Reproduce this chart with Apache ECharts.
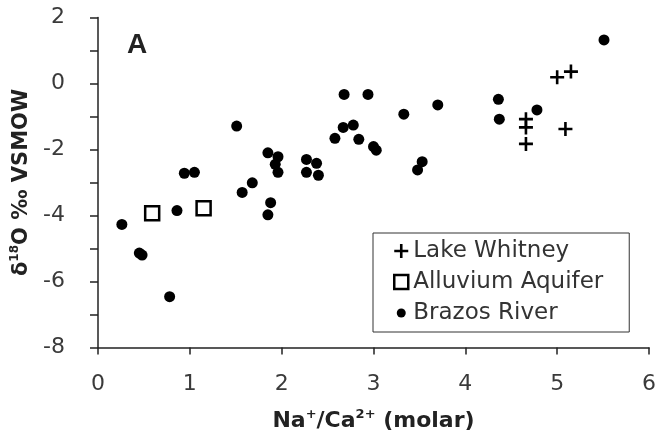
<!DOCTYPE html>
<html>
<head>
<meta charset="utf-8">
<script src="https://cdn.jsdelivr.net/npm/echarts@6/dist/echarts.min.js"></script>
<style>
  html, body { margin: 0; padding: 0; background: #fff; }
  #chart { width: 659px; height: 440px; }
</style>
</head>
<body>
<div id="chart"></div>
<script>
// Na+/Ca2+ molar ratio (x) against delta-18O in per mil VSMOW (y)
const lakeWhitneyX = [5.00, 5.15, 4.66, 4.66, 4.66, 5.09];
const lakeWhitneyY = [0.19, 0.36, -1.08, -1.33, -1.83, -1.38];

const alluviumX = [0.59, 1.15];
const alluviumY = [-3.93, -3.78];

const brazosX = [0.26, 0.45, 0.48, 0.78, 0.86, 0.94, 1.05, 1.51, 1.57, 1.68,
                 1.85, 1.96, 1.93, 1.96, 1.88, 1.85, 2.27, 2.38, 2.27, 2.40,
                 2.58, 2.67, 2.78, 2.68, 2.94, 2.84, 3.00, 3.03, 3.33, 3.53,
                 3.48, 3.70, 4.36, 4.37, 4.78, 5.51];
const brazosY = [-4.27, -5.14, -5.20, -6.46, -3.85, -2.72, -2.69, -1.29, -3.30, -3.01,
                 -2.10, -2.22, -2.45, -2.69, -3.61, -3.98, -2.30, -2.42, -2.69, -2.78,
                 -1.66, -1.33, -1.26, -0.33, -0.33, -1.69, -1.91, -2.02, -0.93, -2.37,
                 -2.62, -0.65, -0.48, -1.08, -0.80, 1.32];

const seriesNames = ['Lake Whitney', 'Alluvium Aquifer', 'Brazos River'];
const xTicks = { min: 0, max: 6, step: 1 };
const yTicks = { min: -8, max: 2, step: 1, labelEvery: 2 };

const pair = (xs, ys) => xs.map((x, i) => [x, ys[i]]);

const PLUS = 'path://M5.7,0H8.3V5.7H14V8.3H8.3V14H5.7V8.3H0V5.7H5.7Z';
// small dot inside a 14x14 box (the two moves fix the box size)
const SMALL_DOT = 'path://M0,0M14,14M2.5,7A4.5,4.5,0,1,1,11.5,7A4.5,4.5,0,1,1,2.5,7Z';

const FONT = 'DejaVu Sans';
const INK = '#000';

const chart = echarts.init(document.getElementById('chart'), null, { renderer: 'canvas' });

chart.setOption({
  animation: false,
  backgroundColor: '#fff',
  grid: { left: 98, right: 10, top: 17.5, bottom: 92.5 },
  xAxis: {
    type: 'value',
    min: xTicks.min, max: xTicks.max, interval: xTicks.step,
    name: '{b|Na}{s|+}{b|/Ca}{s|2+}{b| (molar)}',
    nameLocation: 'middle',
    nameGap: 61,
    nameTextStyle: {
      rich: {
        b: { fontFamily: FONT, fontWeight: 'bold', fontSize: 22, color: '#222', lineHeight: 26 },
        s: { fontFamily: FONT, fontWeight: 'bold', fontSize: 13, color: '#222', lineHeight: 14, verticalAlign: 'top' }
      }
    },
    axisLine: { onZero: false, lineStyle: { color: '#222', width: 1.5 } },
    axisTick: { inside: false, length: 7, lineStyle: { color: '#222', width: 1.5 } },
    splitLine: { show: false },
    axisLabel: { fontFamily: FONT, fontSize: 22, color: '#3a3a3a', margin: 26 }
  },
  yAxis: {
    type: 'value',
    min: yTicks.min, max: yTicks.max, interval: yTicks.step,
    name: '{b|δ}{s|18}{b|O ‰ VSMOW}',
    nameLocation: 'middle',
    nameGap: 58,
    nameRotate: 90,
    nameTextStyle: {
      rich: {
        b: { fontFamily: FONT, fontWeight: 'bold', fontSize: 21, color: '#222', lineHeight: 26 },
        s: { fontFamily: FONT, fontWeight: 'bold', fontSize: 12, color: '#222', lineHeight: 14, verticalAlign: 'top' }
      }
    },
    axisLine: { onZero: false, lineStyle: { color: '#222', width: 1.5 } },
    axisTick: { inside: false, length: 8, lineStyle: { color: '#222', width: 1.5 } },
    splitLine: { show: false },
    axisLabel: {
      fontFamily: FONT, fontSize: 22, color: '#3a3a3a', margin: 33,
      formatter: v => (Math.round(v) % yTicks.labelEvery === 0 ? String(v) : '')
    }
  },
  legend: {
    orient: 'vertical',
    left: 373,
    top: 233,
    padding: [5, 26, 6, 20],
    itemGap: 5,
    itemWidth: 14,
    itemHeight: 14,
    itemTextGap: 12,
    itemStyle: { borderWidth: 'inherit', opacity: 1 },
    borderColor: '#333',
    borderWidth: 1,
    textStyle: { fontFamily: FONT, fontSize: 23, color: '#333', lineHeight: 26 },
    data: [
      { name: seriesNames[0], icon: PLUS },
      { name: seriesNames[1], icon: 'rect' },
      { name: seriesNames[2], icon: SMALL_DOT }
    ]
  },
  graphic: [{
    type: 'text',
    left: 127,
    top: 31,
    style: { text: 'A', fontFamily: 'Liberation Sans', fontWeight: 'bold', fontSize: 28, fill: '#222' }
  }],
  series: [
    {
      name: seriesNames[2],
      type: 'scatter',
      symbol: 'circle',
      symbolSize: 11,
      itemStyle: { color: INK, opacity: 1 },
      data: pair(brazosX, brazosY)
    },
    {
      name: seriesNames[1],
      type: 'scatter',
      symbol: 'rect',
      symbolSize: 14,
      itemStyle: { color: '#fff', borderColor: INK, borderWidth: 2.5, opacity: 1 },
      data: pair(alluviumX, alluviumY)
    },
    {
      name: seriesNames[0],
      type: 'scatter',
      symbol: PLUS,
      symbolSize: 14,
      itemStyle: { color: INK, opacity: 1 },
      data: pair(lakeWhitneyX, lakeWhitneyY)
    }
  ]
});
</script>
</body>
</html>
